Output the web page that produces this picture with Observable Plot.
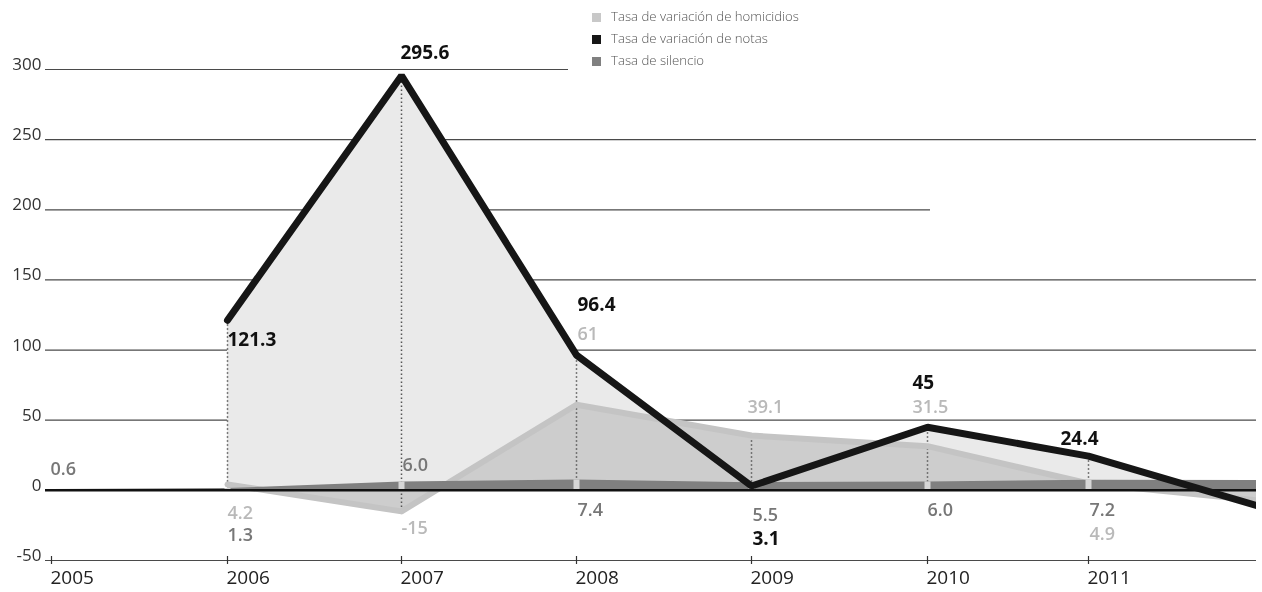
<!DOCTYPE html>
<html>
<head>
<meta charset="utf-8">
<script src="https://cdn.jsdelivr.net/npm/d3@7"></script>
<script src="https://cdn.jsdelivr.net/npm/@observablehq/plot@0.6"></script>
<style>
  body { margin: 0; background: #fff; }
  #wrap { position: relative; width: 1262px; height: 592px; font-family: "Open Sans", sans-serif; }
  #legend { position: absolute; left: 592px; top: 5px; font-size: 13.2px; color: #555; font-weight: 300; line-height: 22px; }
  #legend .sw { display: inline-block; width: 9px; height: 9px; margin-right: 10px; vertical-align: -0.5px; }
</style>
</head>
<body>
<div id="wrap"><div id="legend"></div></div>
<script>
// ---- data ----
const years      = [2005, 2006, 2007, 2008, 2009, 2010, 2011, 2012];
const homicidios = [null, 4.2, -15, 61, 39.1, 31.5, 4.9, -7.5];   // Tasa de variación de homicidios
const notas      = [null, 121.3, 295.6, 96.4, 3.1, 45, 24.4, -12]; // Tasa de variación de notas
const silencio   = [0.6, 1.3, 6.0, 7.4, 5.5, 6.0, 7.2, 7];         // Tasa de silencio
const labeledYears = [2005, 2006, 2007, 2008, 2009, 2010, 2011];
const yTicks = [-50, 0, 50, 100, 150, 200, 250, 300];
const xTicks = [2005, 2006, 2007, 2008, 2009, 2010, 2011];
const seriesNames = ["Tasa de variación de homicidios", "Tasa de variación de notas", "Tasa de silencio"];

const rows = years.map((year, i) => ({year, homicidios: homicidios[i], notas: notas[i], silencio: silencio[i]}));
const labeled = rows.filter(d => labeledYears.includes(d.year));

// ---- styling / layout ----
const C = {hom: "#cdcdcd", homLine: "#c4c4c4", notasArea: "#eaeaea", notas: "#161616", sil: "#808080"};
const labelLayout = {
  notas:      {dx: [0, -1, 1, 1, -15, -28],      dy: [20, -23, -50, 53, -44, -17]},
  homicidios: {dx: [0, 0, 1, -4, -15, 1],        dy: [29, 17, -71, -28, -39, 51]},
  silencio:   {dx: [-1, 0, 1, 1, 1, 0, 1],       dy: [-20, 47, -17, 30, 33, 28, 30]}
};
const labelStyle = {
  notas:      {fill: "#111", fontWeight: 700, fontSize: 19},
  homicidios: {fill: "#b9b9b9", fontWeight: 600, fontSize: 18},
  silencio:   {fill: "#777", fontWeight: 600, fontSize: 18}
};

const fmt = {
  notas: v => String(v),
  homicidios: v => String(v),
  silencio: v => v.toFixed(1)
};

const labelMarks = [];
for (const key of ["homicidios", "silencio", "notas"]) {
  const pts = labeled.filter(d => d[key] != null);
  pts.forEach((d, i) => {
    labelMarks.push(Plot.text([d], {
      x: "year", y: key, text: r => fmt[key](r[key]),
      textAnchor: "start", dx: labelLayout[key].dx[i], dy: labelLayout[key].dy[i],
      ...labelStyle[key]
    }));
  });
}

const homRows = rows.filter(d => d.homicidios != null);
const notRows = rows.filter(d => d.notas != null);
const midYears = rows.filter(d => d.year >= 2006 && d.year <= 2011);

const chart = Plot.plot({
  width: 1262,
  height: 592,
  marginLeft: 51,
  marginRight: 6,
  marginTop: 69,
  marginBottom: 32,
  style: {fontFamily: "Open Sans, sans-serif", background: "white", overflow: "visible"},
  x: {type: "linear", domain: years, range: [51, 227, 401, 576, 751, 927, 1088, 1262]},
  y: {domain: [-50, 300]},
  marks: [
    // gridlines
    Plot.ruleY(yTicks.filter(t => t !== 0 && t !== 300 && t !== 200), {stroke: "#4a4a4a", strokeWidth: 1.2, insetLeft: -6}),
    Plot.ruleY(yTicks.filter(t => t === 300), {stroke: "#4a4a4a", strokeWidth: 1.2, insetLeft: -6, insetRight: 688}),
    Plot.ruleY(yTicks.filter(t => t === 200), {stroke: "#4a4a4a", strokeWidth: 1.2, insetLeft: -6, insetRight: 326}),
    // opaque underlay so gridlines are hidden behind the areas
    Plot.areaY(notRows, {x: "year", y1: 0, y2: "notas", fill: "white", clip: true}),
    Plot.areaY(homRows, {x: "year", y1: 0, y2: "homicidios", fill: "white", clip: true}),
    // areas (overlap darkens)
    Plot.areaY(notRows, {x: "year", y1: 0, y2: "notas", fill: C.notasArea, mixBlendMode: "multiply", clip: true}),
    Plot.areaY(homRows, {x: "year", y1: 0, y2: "homicidios", fill: C.hom, mixBlendMode: "multiply", clip: true}),
    // dotted verticals
    Plot.ruleX(midYears, {x: "year", y1: d => Math.min(0, d.homicidios), y2: d => Math.max(d.notas, d.homicidios),
      stroke: "#555", strokeWidth: 1.5, strokeDasharray: "1.5,2.5"}),
    // homicides line
    Plot.line(homRows, {x: "year", y: "homicidios", stroke: C.homLine, strokeWidth: 6, clip: true}),
    // silence band
    Plot.areaY(rows, {x: "year", y1: 0, y2: "silencio", fill: C.sil, clip: true}),
    Plot.ruleX(midYears, {x: "year", y1: 0, y2: "silencio", stroke: "#d6d6d6", strokeWidth: 6}),
    Plot.ruleY([0], {stroke: "#111", strokeWidth: 2.5, insetLeft: -6}),
    // notes line
    Plot.line(notRows, {x: "year", y: "notas", stroke: C.notas, strokeWidth: 7, strokeLinejoin: "miter", clip: true}),
    // axes
    Plot.ruleX(xTicks, {x: d => d, y1: -50, y2: -50, insetTop: -4, insetBottom: -4, stroke: "#333", strokeWidth: 1.2}),
    Plot.axisY({ticks: yTicks, tickSize: 0, tickPadding: 10, dy: -5, fontSize: 17, fill: "#333", label: null, tickFormat: d => String(d)}),
    Plot.axisX({ticks: xTicks, tickSize: 0, tickPadding: 10, textAnchor: "start", dx: -1, fontSize: 19, fill: "#222", label: null, tickFormat: d => String(d)}),
    ...labelMarks
  ]
});

const wrap = document.getElementById("wrap");
wrap.insertBefore(chart, wrap.firstChild);

const legendColors = ["#c8c8c8", C.notas, C.sil];
const legend = document.getElementById("legend");
seriesNames.forEach((name, i) => {
  const row = document.createElement("div");
  const sw = document.createElement("span");
  sw.className = "sw";
  sw.style.background = legendColors[i];
  row.appendChild(sw);
  row.appendChild(document.createTextNode(name));
  legend.appendChild(row);
});
</script>
</body>
</html>
